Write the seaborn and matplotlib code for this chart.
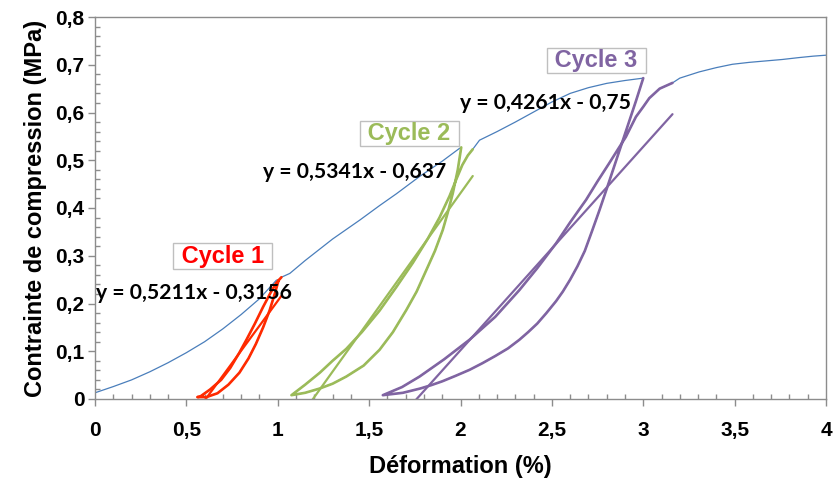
import matplotlib
matplotlib.use("Agg")
import matplotlib.pyplot as plt
import numpy as np
import pandas as pd
import seaborn as sns
from matplotlib.ticker import FixedLocator, MultipleLocator

# Monotonic loading envelope, split around the three unload/reload cycles
env1_x = [0.0, 0.1, 0.2, 0.3, 0.4, 0.5, 0.6, 0.7, 0.8, 0.9, 0.993]
env1_y = [0.013, 0.026, 0.04, 0.057, 0.076, 0.097, 0.12, 0.147, 0.177, 0.21, 0.249]
env2_x = [1.066, 1.15, 1.3, 1.45, 1.557, 1.65, 1.776, 1.9, 1.995]
env2_y = [0.263, 0.29, 0.335, 0.375, 0.405, 0.43, 0.466, 0.498, 0.525]
env3_x = [2.104, 2.2, 2.3, 2.4, 2.5, 2.6, 2.7, 2.8, 2.9, 3.0]
env3_y = [0.542, 0.56, 0.58, 0.601, 0.622, 0.64, 0.652, 0.661, 0.667, 0.672]
env4_x = [3.2, 3.306, 3.4, 3.488, 3.58, 3.67, 3.76, 3.852, 3.93, 4.0]
env4_y = [0.672, 0.685, 0.694, 0.701, 0.705, 0.708, 0.711, 0.715, 0.718, 0.72]

# Cycle 1
c1_unload_x = [1.005, 0.985, 0.955, 0.92, 0.88, 0.84, 0.79, 0.73, 0.67, 0.61, 0.56]
c1_unload_y = [0.249, 0.222, 0.185, 0.15, 0.115, 0.085, 0.055, 0.03, 0.012, 0.004, 0.004]
c1_reload_x = [0.575, 0.63, 0.69, 0.74, 0.79, 0.83, 0.875, 0.92, 0.96, 0.99, 1.02]
c1_reload_y = [0.005, 0.02, 0.04, 0.065, 0.097, 0.125, 0.158, 0.193, 0.222, 0.242, 0.255]

# Cycle 2
c2_unload_x = [2.004, 1.985, 1.958, 1.93, 1.903, 1.86, 1.813, 1.76, 1.703, 1.63, 1.557, 1.47, 1.375, 1.3, 1.23, 1.15, 1.075]
c2_unload_y = [0.527, 0.48, 0.431, 0.39, 0.354, 0.31, 0.27, 0.225, 0.186, 0.14, 0.103, 0.07, 0.047, 0.032, 0.022, 0.013, 0.008]
c2_reload_x = [1.075, 1.15, 1.23, 1.3, 1.375, 1.46, 1.557, 1.65, 1.739, 1.82, 1.885, 1.94, 1.977, 2.01, 2.04, 2.067]
c2_reload_y = [0.008, 0.03, 0.055, 0.08, 0.105, 0.14, 0.185, 0.235, 0.285, 0.335, 0.38, 0.425, 0.46, 0.49, 0.51, 0.523]

# Cycle 3
c3_unload_x = [3.0, 2.96, 2.92, 2.88, 2.84, 2.8, 2.76, 2.72, 2.68, 2.64, 2.6, 2.56, 2.523, 2.47, 2.42, 2.37, 2.322, 2.26, 2.19, 2.12, 2.049, 1.97, 1.9, 1.84, 1.78, 1.685, 1.575]
c3_unload_y = [0.672, 0.624, 0.578, 0.532, 0.486, 0.44, 0.395, 0.352, 0.31, 0.278, 0.25, 0.225, 0.205, 0.18, 0.158, 0.14, 0.124, 0.106, 0.09, 0.075, 0.061, 0.048, 0.037, 0.029, 0.022, 0.013, 0.008]
c3_reload_x = [1.575, 1.68, 1.776, 1.91, 2.049, 2.19, 2.322, 2.42, 2.523, 2.6, 2.687, 2.75, 2.814, 2.86, 2.905, 2.935, 2.96, 3.0, 3.033, 3.09, 3.16]
c3_reload_y = [0.008, 0.025, 0.047, 0.083, 0.124, 0.172, 0.228, 0.274, 0.326, 0.37, 0.417, 0.456, 0.494, 0.522, 0.549, 0.572, 0.591, 0.612, 0.63, 0.65, 0.662]

# Linear fits of each cycle (slope, intercept)
fit_slope = [0.5211, 0.5341, 0.4261]
fit_intercept = [-0.3156, -0.637, -0.75]

cycle_names = ["Cycle 1", "Cycle 2", "Cycle 3"]
cycle_colors = ["#FF2A00", "#9BBB59", "#8064A2"]
label_colors = ["#FF0000", "#9BBB59", "#8064A2"]

x_ticks = [0, 0.5, 1, 1.5, 2, 2.5, 3, 3.5, 4]
x_ticklabels = ["0", "0,5", "1", "1,5", "2", "2,5", "3", "3,5", "4"]
y_ticks = [0, 0.1, 0.2, 0.3, 0.4, 0.5, 0.6, 0.7, 0.8]
y_ticklabels = ["0", "0,1", "0,2", "0,3", "0,4", "0,5", "0,6", "0,7", "0,8"]

sns.set_theme(style="white")
plt.rcParams["font.family"] = ["Liberation Sans", "DejaVu Sans"]
plt.rcParams["text.color"] = "black"
plt.rcParams["axes.labelcolor"] = "black"
plt.rcParams["xtick.labelcolor"] = "black"
plt.rcParams["ytick.labelcolor"] = "black"

W, H = 833, 479
fig = plt.figure(figsize=(W / 100, H / 100), dpi=100)
ax = fig.add_axes([95 / W, 1 - 399 / H, (826 - 95) / W, (399 - 17) / H])

cycles = [
    (c1_unload_x, c1_unload_y, c1_reload_x, c1_reload_y),
    (c2_unload_x, c2_unload_y, c2_reload_x, c2_reload_y),
    (c3_unload_x, c3_unload_y, c3_reload_x, c3_reload_y),
]
envs = [(env1_x, env1_y), (env2_x, env2_y), (env3_x, env3_y), (env4_x, env4_y)]

# Full test record: envelope pieces joined through each cycle
full_x, full_y = [], []
for i, (ex, ey) in enumerate(envs):
    full_x += ex
    full_y += ey
    if i < 3:
        ux, uy, rx, ry = cycles[i]
        full_x += ux + rx
        full_y += uy + ry
full = pd.DataFrame({"x": full_x, "y": full_y})
sns.lineplot(data=full, x="x", y="y", sort=False, estimator=None,
             color="#4A7EBB", lw=0.9, ax=ax)

for i, (ux, uy, rx, ry) in enumerate(cycles):
    loop = pd.DataFrame({"x": ux + rx, "y": uy + ry})
    sns.lineplot(data=loop, x="x", y="y", sort=False, estimator=None,
                 color=cycle_colors[i], lw=1.9, ax=ax)
    xs = np.array([min(ux + rx), max(ux + rx)])
    fit = pd.DataFrame({"x": xs, "y": fit_slope[i] * xs + fit_intercept[i]})
    sns.lineplot(data=fit, x="x", y="y", sort=False, estimator=None,
                 color=cycle_colors[i], lw=1.6, ax=ax)

ax.set_xlim(0, 4)
ax.set_ylim(0, 0.8)

# Cycle tags and fit equations
tag_pos = [(0.699, 0.299), (1.719, 0.556), (2.743, 0.709)]
eq_pos = [(0.544, 0.221), (1.421, 0.476), (2.466, 0.619)]
for i in range(3):
    ax.text(*tag_pos[i], " " + cycle_names[i] + " ", color=label_colors[i],
            fontsize=17, fontweight="bold", ha="center", va="center",
            bbox=dict(boxstyle="square,pad=0.06", fc="white", ec="#BFBFBF", lw=1.0))
    a = str(fit_slope[i]).replace(".", ",")
    b = str(-fit_intercept[i]).replace(".", ",")
    ax.text(*eq_pos[i], f"y = {a}x - {b}", color="black", fontsize=15.2,
            fontweight="bold", family=["Lato", "DejaVu Sans"],
            ha="center", va="center")

ax.xaxis.set_major_locator(FixedLocator(x_ticks))
ax.yaxis.set_major_locator(FixedLocator(y_ticks))
ax.set_xticklabels(x_ticklabels)
ax.set_yticklabels(y_ticklabels)
ax.xaxis.set_minor_locator(MultipleLocator(0.1))
ax.yaxis.set_minor_locator(MultipleLocator(0.02))

spine_c = "#8C8C8C"
for s in ax.spines.values():
    s.set_visible(True)
    s.set_color(spine_c)
    s.set_linewidth(1.0)
ax.tick_params(which="major", direction="out", length=5, width=1.0, color=spine_c,
               labelsize=15, labelcolor="black", pad=11, bottom=True, left=True)
ax.tick_params(axis="y", which="major", pad=2.5)
ax.tick_params(which="minor", direction="in", length=3.5, width=1.0, color=spine_c,
               bottom=True, left=True)
for lab in ax.get_xticklabels() + ax.get_yticklabels():
    lab.set_fontweight("bold")

ax.set_xlabel("Déformation (%)", fontsize=17, fontweight="bold", labelpad=11, color="black")
ax.set_ylabel("Contrainte de compression (MPa)", fontsize=17, fontweight="bold", labelpad=6, color="black")
ax.grid(False)

fig.savefig("out.png", dpi=100)
